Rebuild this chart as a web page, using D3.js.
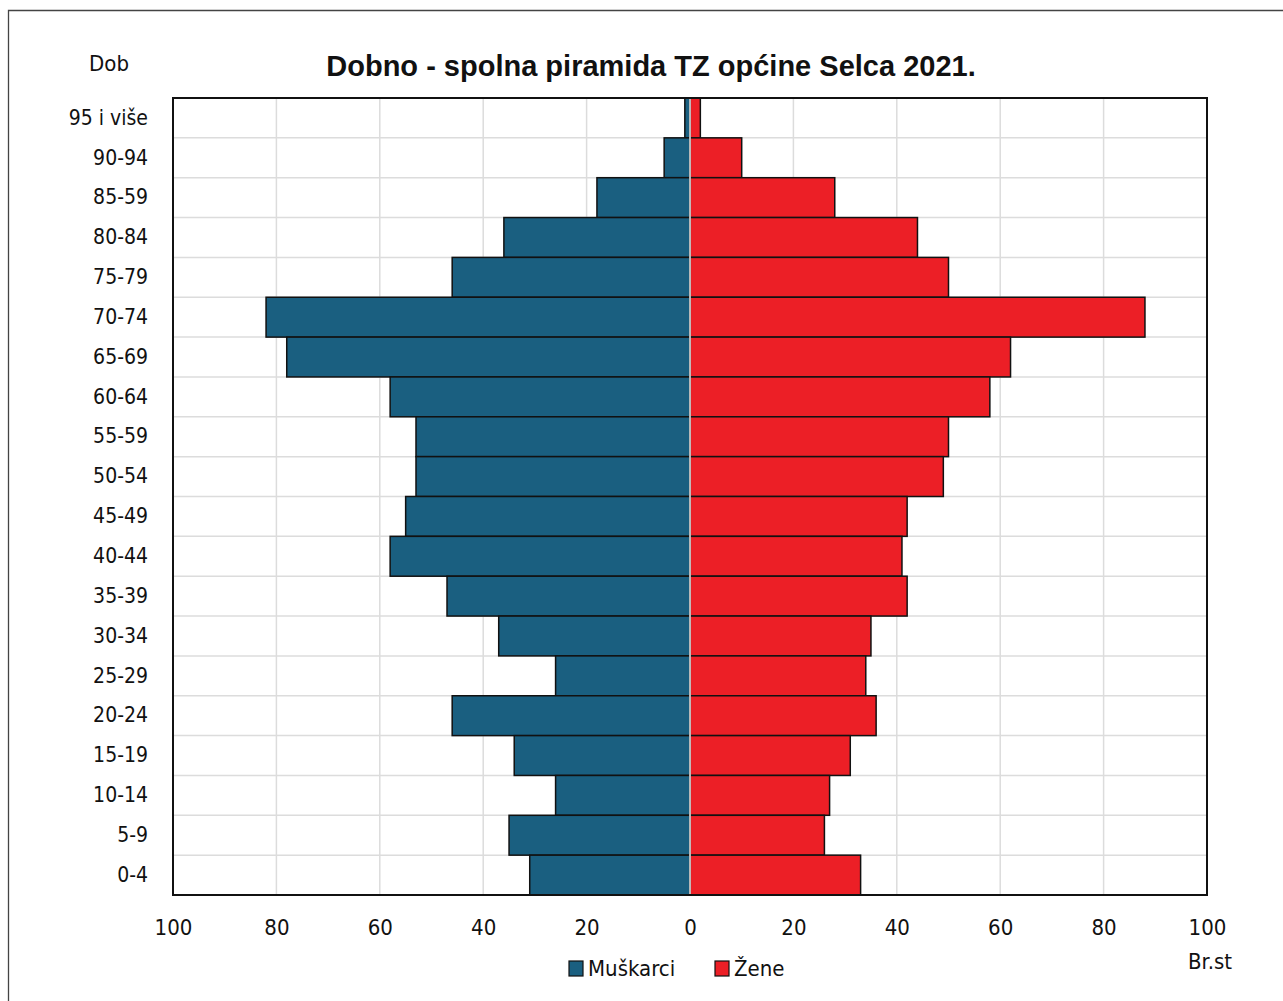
<!DOCTYPE html>
<html>
<head>
<meta charset="utf-8">
<script src="https://cdn.jsdelivr.net/npm/d3@7"></script>
<style>
  body { margin: 0; background: #fff; }
  text { font-family: "Liberation Sans Narrow", "DejaVu Sans Condensed", "Liberation Sans", sans-serif; fill: #111; }
  .title { font-family: "Liberation Sans", "DejaVu Sans", sans-serif; font-weight: bold; }
</style>
</head>
<body>
<svg id="chart" width="1283" height="1001"></svg>
<script>
// age groups, top to bottom (label "85-59" kept as in source)
const ageGroups = ["95 i više", "90-94", "85-59", "80-84", "75-79", "70-74", "65-69", "60-64",
  "55-59", "50-54", "45-49", "40-44", "35-39", "30-34", "25-29", "20-24", "15-19", "10-14", "5-9", "0-4"];
const muskarci = [1, 5, 18, 36, 46, 82, 78, 58, 53, 53, 55, 58, 47, 37, 26, 46, 34, 26, 35, 31];
const zene = [2, 10, 28, 44, 50, 88, 62, 58, 50, 49, 42, 41, 42, 35, 34, 36, 31, 27, 26, 33];
const xTicks = [-100, -80, -60, -40, -20, 0, 20, 40, 60, 80, 100];

const svg = d3.select("#chart");
const plot = { left: 173, right: 1207, top: 98, bottom: 895 };

const x = d3.scaleLinear().domain([-100, 100]).range([plot.left, plot.right]);
const y = d3.scaleBand().domain(ageGroups).range([plot.top, plot.bottom]).padding(0);

// outer frame
svg.append("path")
  .attr("d", "M8.5,1001 L8.5,10.5 L1283,10.5")
  .attr("fill", "none").attr("stroke", "#444").attr("stroke-width", 1.3);

// grid
const grid = svg.append("g");
grid.selectAll(".vg").data(xTicks.slice(1, -1)).join("line")
  .attr("x1", d => x(d)).attr("x2", d => x(d))
  .attr("y1", plot.top).attr("y2", plot.bottom)
  .attr("stroke", "#dcdcdc").attr("stroke-width", 1.5);
grid.selectAll(".hg").data(ageGroups.slice(1)).join("line")
  .attr("x1", plot.left).attr("x2", plot.right)
  .attr("y1", d => y(d)).attr("y2", d => y(d))
  .attr("stroke", "#dcdcdc").attr("stroke-width", 1.5);

// bars
svg.append("g").selectAll("rect").data(ageGroups).join("rect")
  .attr("x", (d, i) => x(-muskarci[i]))
  .attr("y", d => y(d))
  .attr("width", (d, i) => x(0) - x(-muskarci[i]))
  .attr("height", y.bandwidth())
  .attr("fill", "#1a5f80").attr("stroke", "#111").attr("stroke-width", 1.5);

svg.append("g").selectAll("rect").data(ageGroups).join("rect")
  .attr("x", x(0))
  .attr("y", d => y(d))
  .attr("width", (d, i) => x(zene[i]) - x(0))
  .attr("height", y.bandwidth())
  .attr("fill", "#ec1f26").attr("stroke", "#111").attr("stroke-width", 1.5);

// zero line
svg.append("line")
  .attr("x1", x(0)).attr("x2", x(0)).attr("y1", plot.top).attr("y2", plot.bottom)
  .attr("stroke", "#eee").attr("stroke-width", 1.5);

// plot border
svg.append("rect")
  .attr("x", plot.left).attr("y", plot.top)
  .attr("width", plot.right - plot.left).attr("height", plot.bottom - plot.top)
  .attr("fill", "none").attr("stroke", "#111").attr("stroke-width", 2);

// x axis labels
const xAxis = d3.axisBottom(x).tickValues(xTicks).tickFormat(d => Math.abs(d)).tickSize(0).tickPadding(0);
const gx = svg.append("g").attr("transform", `translate(0,${plot.bottom + 40})`).call(xAxis);
gx.select(".domain").remove();
gx.selectAll("text").attr("font-size", 22).attr("dy", 0)
  .style("font-family", '"Liberation Sans Narrow", "DejaVu Sans Condensed", sans-serif').attr("fill", "#111");

// y axis labels
const yAxis = d3.axisLeft(y).tickSize(0).tickPadding(0);
const gy = svg.append("g").attr("transform", `translate(148,0)`).call(yAxis);
gy.select(".domain").remove();
gy.selectAll("text").attr("font-size", 21)
  .style("font-family", '"Liberation Sans Narrow", "DejaVu Sans Condensed", sans-serif').attr("fill", "#111");

// titles
svg.append("text").attr("class", "title").attr("x", 651).attr("y", 76)
  .attr("text-anchor", "middle").attr("font-size", 29).text("Dobno - spolna piramida TZ općine Selca 2021.");
svg.append("text").attr("x", 109).attr("y", 71).attr("text-anchor", "middle")
  .attr("font-size", 22).text("Dob");
svg.append("text").attr("x", 1210).attr("y", 969).attr("text-anchor", "middle")
  .attr("font-size", 22).text("Br.st");

// legend
const legend = [{ name: "Muškarci", color: "#1a5f80", x: 569 }, { name: "Žene", color: "#ec1f26", x: 715 }];
const lg = svg.append("g").selectAll("g").data(legend).join("g")
  .attr("transform", d => `translate(${d.x},961)`);
lg.append("rect").attr("width", 14).attr("height", 15)
  .attr("fill", d => d.color).attr("stroke", "#111").attr("stroke-width", 1.2);
lg.append("text").attr("x", 19).attr("y", 15).attr("font-size", 22).text(d => d.name);
</script>
</body>
</html>
